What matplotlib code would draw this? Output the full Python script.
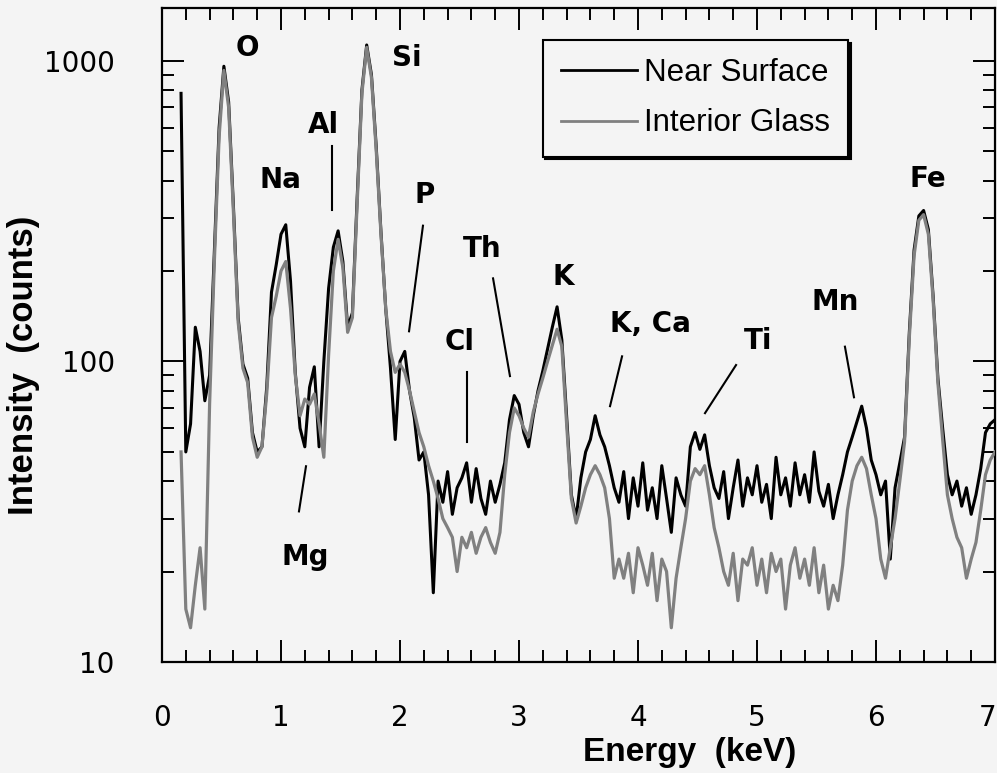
import numpy as np
import matplotlib.pyplot as plt
import matplotlib.transforms as mtransforms
from matplotlib.ticker import FixedLocator, MultipleLocator, NullFormatter

plt.rcParams['font.family'] = ['Liberation Sans', 'DejaVu Sans']

# Spectrum channels: first channel energy and channel width (keV)
ENERGY_START = 0.16
CHANNEL_WIDTH = 0.04

near_surface = [
    780, 50, 62, 130, 108, 74, 90, 230, 600, 960,
    730, 330, 140, 98, 88, 58, 50, 52, 82, 170,
    210, 265, 285, 185, 92, 60, 52, 82, 96, 52,
    100, 175, 240, 272, 215, 130, 145, 350, 800, 1130,
    900, 520, 270, 150, 95, 55, 100, 108, 80, 65,
    47, 50, 36, 17, 40, 34, 43, 31, 38, 41,
    46, 34, 44, 35, 31, 40, 34, 39, 46, 64,
    77, 72, 58, 52, 66, 80, 93, 110, 130, 152,
    118, 66, 36, 30, 41, 50, 55, 66, 57, 52,
    45, 38, 34, 43, 30, 41, 33, 46, 32, 38,
    30, 45, 35, 27, 41, 36, 33, 52, 58, 51,
    57, 45, 38, 35, 43, 30, 38, 47, 33, 41,
    36, 45, 34, 39, 30, 48, 36, 41, 33, 46,
    36, 42, 34, 50, 37, 33, 39, 30, 36, 42,
    50, 56, 63, 71, 60, 47, 42, 36, 40, 22,
    38, 46, 56, 125, 235, 305, 318, 275, 165, 88,
    60, 42, 36, 40, 33, 38, 31, 36, 44, 58,
    62, 64,
]

interior_glass = [
    50, 15, 13, 18, 24, 15, 72, 215, 560, 930,
    700, 315, 135, 95, 85, 56, 48, 52, 78, 140,
    165, 200, 215, 150, 90, 66, 75, 72, 78, 62,
    48, 105, 200, 255, 205, 125, 140, 335, 780, 1110,
    880, 505, 265, 150, 108, 92, 98, 92, 80, 68,
    58, 52, 45, 40, 35, 30, 28, 26, 20, 26,
    24, 27, 23, 26, 28, 25, 23, 27, 42, 58,
    70, 66, 60, 56, 68, 78, 88, 100, 113, 128,
    112, 62, 35, 29, 33, 38, 42, 45, 42, 38,
    30, 19, 22, 19, 23, 17, 24, 21, 18, 23,
    16, 22, 20, 13, 19, 24, 30, 40, 44, 42,
    45, 36, 28, 24, 20, 18, 23, 16, 22, 21,
    24, 18, 22, 17, 23, 20, 22, 15, 21, 24,
    19, 22, 18, 24, 17, 21, 15, 18, 16, 21,
    32, 40, 45, 48, 44, 36, 30, 22, 19, 24,
    30, 40, 54, 120, 225, 295, 308, 265, 160, 85,
    55, 36, 30, 26, 24, 19, 22, 25, 32, 42,
    47, 50,
]

series_names = ["Near Surface", "Interior Glass"]

x_ticks = [0, 1, 2, 3, 4, 5, 6, 7]
x_tick_labels = ["0", "1", "2", "3", "4", "5", "6", "7"]
y_ticks = [10, 100, 1000]
y_tick_labels = ["10", "100", "1000"]

# Element labels: text, energy, counts
element_labels = [
    ("O", 0.714, 1104), ("Si", 2.059, 1023), ("Al", 1.353, 611),
    ("Na", 0.992, 401), ("P", 2.210, 357), ("Th", 2.689, 237),
    ("Cl", 2.504, 116), ("K", 3.370, 191), ("K, Ca", 4.101, 133),
    ("Ti", 5.008, 117), ("Mn", 5.655, 158), ("Fe", 6.437, 406),
    ("Mg", 1.202, 22.4),
]
# Pointer lines from label to peak: (E0, v0, E1, v1)
pointers = [
    (1.429, 520, 1.429, 318),
    (2.193, 283, 2.076, 126),
    (2.782, 189, 2.924, 89.4),
    (2.563, 92.3, 2.563, 53.8),
    (3.866, 104, 3.765, 71),
    (4.824, 97.3, 4.563, 67.3),
    (5.739, 112, 5.815, 76),
    (1.210, 44.8, 1.151, 31.7),
]

energy = ENERGY_START + CHANNEL_WIDTH * np.arange(len(near_surface))

bg = '#f4f4f4'
fig = plt.figure(figsize=(9.97, 7.73), dpi=100, facecolor=bg)
ax = fig.add_axes([162 / 997, 111 / 773, 833 / 997, 654 / 773])
ax.set_facecolor(bg)

ax.plot(energy, near_surface, color='black', lw=2.2, label=series_names[0], zorder=3)
ax.plot(energy, interior_glass, color='#808080', lw=2.3, label=series_names[1], zorder=4)

ax.set_yscale('log')
ax.set_xlim(0, 7)
ax.set_ylim(10, 1500)

ax.set_xticks(x_ticks, x_tick_labels)
ax.xaxis.set_minor_locator(MultipleLocator(0.2))
ax.set_yticks(y_ticks, y_tick_labels)
minor_y = [m * d for d in (10, 100, 1000) for m in range(2, 10) if m * d <= 1500]
ax.yaxis.set_minor_locator(FixedLocator(minor_y))
ax.yaxis.set_minor_formatter(NullFormatter())

ax.tick_params(which='both', direction='in', top=True, right=True, width=1.4, colors='black')
ax.tick_params(which='major', length=16)
ax.tick_params(which='minor', length=8.5)
ax.tick_params(axis='x', which='major', pad=30, labelsize=20)
ax.tick_params(axis='y', which='major', pad=34, labelsize=20)
for lab in ax.get_xticklabels() + ax.get_yticklabels():
    lab.set_family('DejaVu Sans')
# the last energy label sits against the right edge of the figure
last = ax.xaxis.get_major_ticks()[-1].label1
last.set_horizontalalignment('right')
last.set_transform(last.get_transform() + mtransforms.ScaledTranslation(1 / 100, 0, fig.dpi_scale_trans))
for s in ax.spines.values():
    s.set_linewidth(1.6)

ax.set_xlabel("Energy  (keV)", fontsize=24, fontweight='bold')
ax.xaxis.set_label_coords(0.634, -0.114)
ax.set_ylabel("Intensity  (counts)", fontsize=25, fontweight='bold')
ax.yaxis.set_label_coords(-0.146, 0.454)

for txt, e, v in element_labels:
    ax.text(e, v, txt, ha='center', va='center', fontsize=20, fontweight='bold',
            family='DejaVu Sans', zorder=5)
for e0, v0, e1, v1 in pointers:
    ax.plot([e0, e1], [v0, v1], color='black', lw=1.5, zorder=5)

leg = ax.legend(loc='upper left', bbox_to_anchor=(0.457, 0.951), borderaxespad=0,
                fontsize=22.5, handlelength=2.45, handletextpad=0.22, labelspacing=0.65,
                borderpad=0.58, fancybox=False, edgecolor='black', facecolor=bg,
                framealpha=1, shadow={'color': 'black', 'alpha': 1})
leg.get_frame().set_linewidth(1.5)
for line in leg.get_lines():
    line.set_linewidth(2.0)

fig.savefig('out.png', dpi=100, facecolor=bg)
